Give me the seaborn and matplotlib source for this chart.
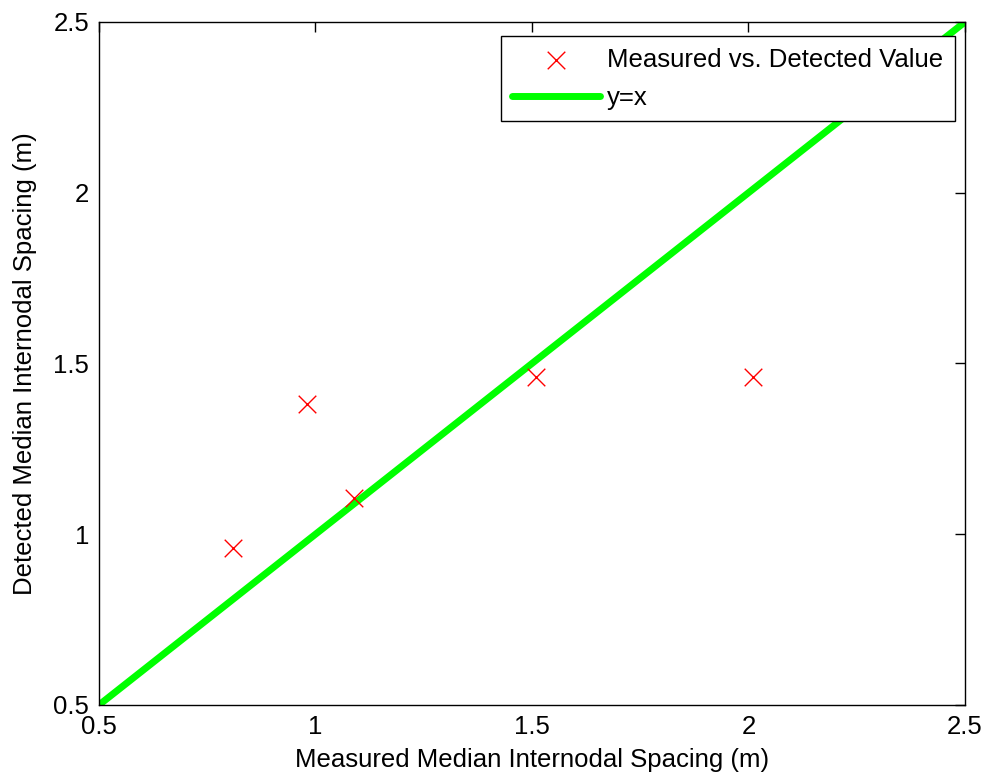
import numpy as np
import pandas as pd
import matplotlib.pyplot as plt
import seaborn as sns

measured = [0.81, 0.98, 1.09, 1.51, 2.01]
detected = [0.96, 1.38, 1.105, 1.46, 1.46]
line_x = [0.5, 2.5]
line_y = [0.5, 2.5]

sns.set_style("white")
plt.rcParams['font.family'] = ['Liberation Sans', 'DejaVu Sans']
plt.rcParams['xtick.direction'] = 'in'
plt.rcParams['ytick.direction'] = 'in'
plt.rcParams['text.color'] = 'black'
plt.rcParams['axes.labelcolor'] = 'black'

df = pd.DataFrame({'measured': measured, 'detected': detected})

fig = plt.figure(figsize=(9.89, 7.8), dpi=100)
ax = fig.add_axes([0.1001, 0.0962, 0.8756, 0.8756])

sns.scatterplot(data=df, x='measured', y='detected', marker='x', color='red',
                s=160, linewidth=1, ax=ax, label='Measured vs. Detected Value', zorder=3)
sns.lineplot(x=line_x, y=line_y, color='#00ff00', linewidth=5, ax=ax, label='y=x', zorder=2)

ax.set_xlim(0.5, 2.5)
ax.set_ylim(0.5, 2.5)
ax.set_xticks([0.5, 1, 1.5, 2, 2.5])
ax.set_yticks([0.5, 1, 1.5, 2, 2.5])
ax.set_xticklabels(['0.5', '1', '1.5', '2', '2.5'])
ax.set_yticklabels(['0.5', '1', '1.5', '2', '2.5'])
ax.tick_params(labelsize=18.5, length=7, width=1, top=True, right=True,
               color='black', labelcolor='black', pad=7)
for s in ax.spines.values():
    s.set_color('black')
    s.set_linewidth(1)
ax.set_xlabel('Measured Median Internodal Spacing (m)', fontsize=18.5, labelpad=7, color='black')
ax.set_ylabel('Detected Median Internodal Spacing (m)', fontsize=18.5, labelpad=12, color='black')

# legend sits on top of the line, like the matlab original
leg = ax.legend(loc='upper right', bbox_to_anchor=(0.9885, 0.9795), borderaxespad=0,
                fontsize=18.5, frameon=True, fancybox=False,
                edgecolor='black', framealpha=1,
                handlelength=3.4, handletextpad=0.3, borderpad=0.45, labelspacing=0.55)
leg.get_frame().set_linewidth(1)
for t in leg.get_texts():
    t.set_color('black')

fig.savefig('out.png', dpi=100)
